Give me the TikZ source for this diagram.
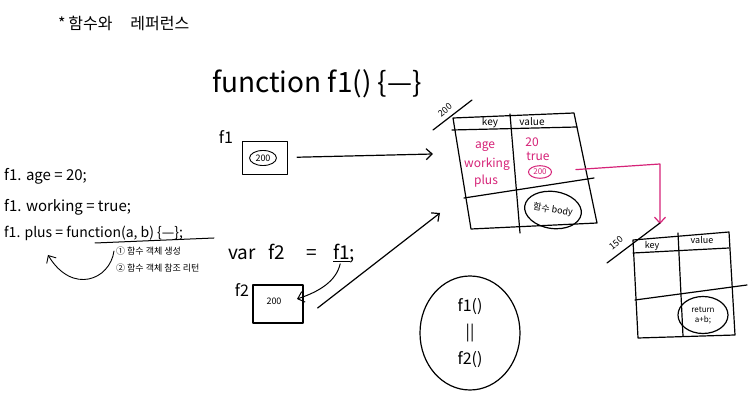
\documentclass[tikz,border=0pt]{standalone}
\usepackage{fontspec}
\newfontfamily\kr{Noto Sans CJK KR}
\usetikzlibrary{arrows.meta,shapes.geometric}
\definecolor{pinkink}{RGB}{214,35,120}
\begin{document}
\begin{tikzpicture}[x=1pt,y=-1pt,
  ink/.style={line width=1.2pt,line cap=round,line join=round},
  arr/.style={ink,-{Straight Barb[length=6pt,width=11pt]}},
  txt/.style={font=\kr\fontsize{#1}{#1}\selectfont,inner sep=0pt},
  pk/.style={text=pinkink}]
\useasboundingbox (0,0) rectangle (756,403);
\fill[white] (0,0) rectangle (756,403);

% title
\node[txt=16,anchor=west] (title) at (58,23) {*\,함수와\hspace{18pt}레퍼런스};
\node[txt=28,anchor=west] (func) at (212,84) {function f1() \{—\}};

% f1 box
\node[txt=16] (f1lab) at (226,137) {f1};
\node[ink,draw,minimum width=45pt,minimum height=33pt] (f1box) at (265,158) {};
\node[txt=9,draw,ellipse,line width=0.9pt,inner sep=2pt] (f1val) at (263,158) {200};

% table 1
\coordinate (t1a) at (453,118);
\coordinate (t1b) at (574,113);
\coordinate (t1c) at (597,223);
\coordinate (t1d) at (471,229);
\draw[ink] (t1a) -- (t1b) -- (t1c) -- (t1d) -- cycle;
\draw[ink] (452,130) -- (577,127);
\draw[ink] (510,114) -- (520,233);
\draw[ink] (464,198) -- (594,178);
\draw[ink] (433,130) -- (472,100);
\node[txt=9,rotate=40] (l200) at (445,110) {200};
\node[txt=10] (k1) at (490,123) {key};
\node[txt=10] (v1) at (532,122) {value};
\node[txt=12,pk] (ka) at (485,147) {age};
\node[txt=12,pk] (kw) at (487,164) {working};
\node[txt=12,pk] (kp) at (486,181) {plus};
\node[txt=12,pk] (va) at (532,142) {20};
\node[txt=12,pk] (vt) at (538,156) {true};
\node[txt=8,pk,draw=pinkink,ellipse,line width=1pt,inner sep=1.5pt] (v200) at (540,172) {200};
\node[txt=9,draw,ink,ellipse,minimum width=57pt,minimum height=37pt,rotate=-8] (body) at (553,210) {함수 body};

\coordinate (t1in) at (433,154);
\draw[arr,shorten <=9pt] (f1box) -- (t1in);

% magenta link
\coordinate (pkc) at (660,164);
\coordinate (t2in) at (660,224);
\draw[arr,draw=pinkink,shorten <=24pt] (v200) -- (pkc) -- (t2in);

% table 2
\coordinate (t2a) at (633,240);
\coordinate (t2b) at (729,232);
\coordinate (t2c) at (735,335);
\coordinate (t2d) at (638,338);
\draw[ink] (t2a) -- (t2b) -- (t2c) -- (t2d) -- cycle;
\draw[ink] (633,253) -- (729,248);
\draw[ink] (678,233) -- (683,336);
\draw[ink] (635,300) -- (747,285);
\draw[ink] (607,263) -- (660,223);
\node[txt=9,rotate=40] (l150) at (616,243) {150};
\node[txt=9] (k2) at (652,246) {key};
\node[txt=9] (v2) at (702,240) {value};
\node[txt=8,draw,ink,ellipse,minimum width=50pt,minimum height=37pt,align=center] (ret) at (703,315) {return\\[2pt]a+b;};

% left code
\node[txt=15,anchor=base west] (c1) at (4,181) {f1. age = 20;};
\node[txt=15,anchor=base west] (c2) at (4,212) {f1. working = true;};
\node[txt=14,anchor=base west] (c3) at (4,238) {f1. plus = function(a, b) \{—\};};
\draw[ink,line width=1pt] (95,243) -- (214,238);
\node[txt=9,anchor=west] (n1) at (116,251) {① 함수 객체 생성};
\node[txt=9,anchor=west] (n2) at (116,268) {② 함수 객체 참조 리턴};
\coordinate (plusin) at (48,255);
\draw[arr,line width=0.9pt] ([xshift=-2pt]n1.west) .. controls (110,280) and (72,295) .. (plusin);

% f2
\node[txt=19,anchor=base west] (var) at (228,260) {var};
\node[txt=19,anchor=base west] (varf2) at (268,260) {f2};
\node[txt=19,anchor=base west] (vareq) at (306,260) {=};
\node[txt=19,anchor=base west] (vf1) at (333,260) {\underline{f1};};
\node[txt=16] (f2lab) at (242,290) {f2};
\node[ink,draw,minimum width=50pt,minimum height=38pt] (f2box) at (278,304) {};
\node[txt=9] (f2val) at (274,301) {200};
\coordinate (f2in) at (297,299);
\draw[arr,line width=1pt] ([xshift=-4pt]vf1.south) .. controls (336,282) and (318,292) .. (f2in);
\coordinate (t1in2) at (440,213);
\draw[arr] ([xshift=14pt,yshift=-4pt]f2box.east) -- (t1in2);

% f1() == f2()
\node[draw,ink,ellipse,minimum width=100pt,minimum height=114pt,align=center,txt=16] (eq) at (470,333) {f1()\\[8pt]||\\[8pt]f2()};
\end{tikzpicture}
\end{document}
